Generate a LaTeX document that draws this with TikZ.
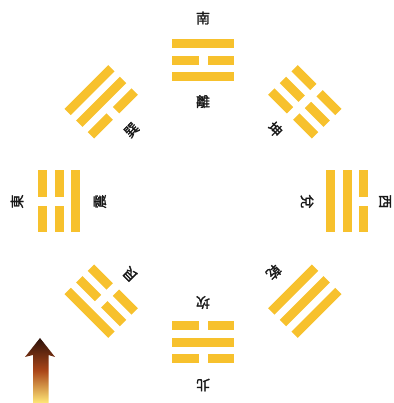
\documentclass[tikz,border=0pt]{standalone}
\usepackage{fontspec}
\newfontfamily\cjk[FakeBold=1.6]{Noto Sans CJK TC}
\definecolor{gua}{RGB}{247,193,45}
\definecolor{arrtop}{RGB}{45,18,10}
\definecolor{arrmid}{RGB}{170,70,25}
\definecolor{arrbot}{RGB}{255,232,120}
\newcommand\guaYao[2]{%
  \ifnum#1=1
    \fill[yao] (-31,#2-4.5) rectangle (31,#2+4.5);
  \else
    \fill[yao] (-31,#2-4.5) rectangle (-4.5,#2+4.5);
    \fill[yao] (4.5,#2-4.5) rectangle (31,#2+4.5);
  \fi}
\newcommand\guaDraw[4]{%
  \begin{scope}[shift={({203+144*cos(#1)},{201.5+141*sin(#1)})},rotate=#1-90]
    \guaYao{#2}{-16.5}\guaYao{#3}{0}\guaYao{#4}{16.5}
  \end{scope}}
\begin{document}
\begin{tikzpicture}[x=1pt,y=1pt,
  yao/.style={fill=gua,draw=none},
  lbl/.style={font=\cjk\fontsize{14}{14}\selectfont,inner sep=0pt,text=black!90}]
\useasboundingbox (0,0) rectangle (393,403);
\coordinate (c) at (203,201.5);
% trigrams: angle, lines from inner to outer
\guaDraw{90}{1}{0}{1}   % li
\guaDraw{45}{0}{0}{0}   % kun
\guaDraw{0}{1}{1}{0}    % dui
\guaDraw{315}{1}{1}{1}  % qian
\guaDraw{270}{0}{1}{0}  % kan
\guaDraw{225}{0}{0}{1}  % gen
\guaDraw{180}{1}{0}{0}  % zhen
\guaDraw{135}{0}{1}{1}  % xun
% inner labels
\node[lbl,rotate=0]    (li)   at ([shift={(90:100)}]c)  {離};
\node[lbl,rotate=-45]  (kun)  at ([shift={(45:102)}]c)  {坤};
\node[lbl,rotate=-90]  (dui)  at ([shift={(0:104)}]c)   {兌};
\node[lbl,rotate=-135] (qian) at ([shift={(315:100)}]c) {乾};
\node[lbl,rotate=180]  (kan)  at ([shift={(270:101)}]c) {坎};
\node[lbl,rotate=135]  (gen)  at ([shift={(225:103)}]c) {艮};
\node[lbl,rotate=90]   (zhen) at ([shift={(180:103)}]c) {震};
\node[lbl,rotate=45]   (xun)  at ([shift={(135:101)}]c) {巽};
% outer labels
\node[lbl,rotate=0]   (nan) at ([shift={(90:183.5)}]c)  {南};
\node[lbl,rotate=180] (bei) at ([shift={(270:183.5)}]c) {北};
\node[lbl,rotate=90]  (dong) at ([shift={(180:186)}]c)  {東};
\node[lbl,rotate=-90] (xi)  at ([shift={(0:182)}]c)     {西};
% arrow
\shade[top color=arrtop,bottom color=arrbot,middle color=arrmid]
  (40,65) -- (55,46) -- (48.5,48) -- (48.5,0) -- (33,0) -- (33,48) -- (25,46) -- cycle;
\end{tikzpicture}
\end{document}
